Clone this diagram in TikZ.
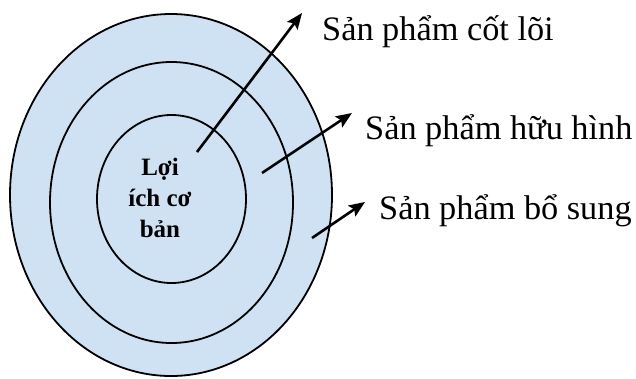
\documentclass[tikz,border=0pt]{standalone}
\usepackage{fontspec}
\setmainfont{Liberation Serif}
\usetikzlibrary{arrows.meta}
\definecolor{ringblue}{RGB}{207,226,243}
\tikzset{
  ring/.style={draw=black, line width=1.8pt, fill=ringblue},
  pointer/.style={line width=2.6pt, -{Stealth[length=16pt, width=13pt, inset=3pt]}},
  label/.style={anchor=base west, inner sep=0pt, font=\fontsize{34.3}{41}\selectfont},
  coretext/.style={anchor=base, inner sep=0pt, font=\bfseries\fontsize{25}{31}\selectfont}
}
\begin{document}
\begin{tikzpicture}[x=1pt, y=-1pt]
  \useasboundingbox (0,0) rectangle (636,378);

  % nested rings
  \draw[ring] (171,195) ellipse [x radius=161, y radius=181];
  \draw[ring] (171.5,202.5) ellipse [x radius=121.5, y radius=140.5];
  \draw[ring] (171.5,199) ellipse [x radius=74.5, y radius=84];

  % core text
  \node[coretext] (core1) at (160,175) {Lợi};
  \node[coretext] (core2) at (160,206) {ích cơ};
  \node[coretext] (core3) at (160,237) {bản};

  % layer labels
  \node[label] (lcore) at (322,40) {Sản phẩm cốt lõi};
  \node[label] (ltang) at (365,139) {Sản phẩm hữu hình};
  \node[label] (laug)  at (379,219) {Sản phẩm bổ sung};

  % pointer ends
  \coordinate (s1) at (197,152);
  \coordinate (t1) at (302,13);
  \coordinate (s2) at (262,173);
  \coordinate (t2) at (352,113);
  \coordinate (s3) at (312,238);
  \coordinate (t3) at (365,202);

  \draw[pointer] (s1) -- (t1);
  \draw[pointer] (s2) -- (t2);
  \draw[pointer] (s3) -- (t3);
\end{tikzpicture}
\end{document}
